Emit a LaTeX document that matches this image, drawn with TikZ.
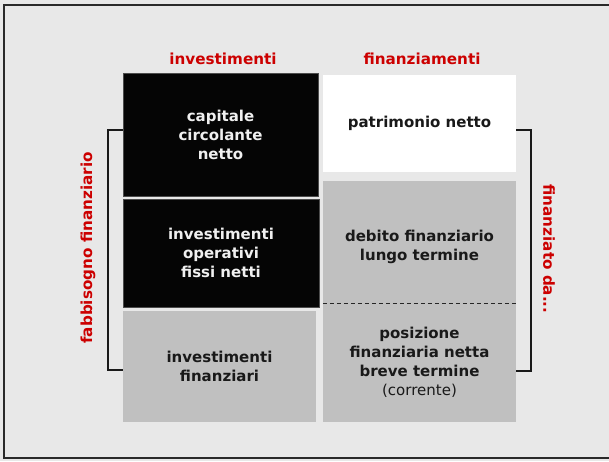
\documentclass[tikz,border=0pt]{standalone}
\usepackage{fontspec}
\setmainfont{DejaVu Sans}
\definecolor{bgc}{HTML}{E8E8E8}
\definecolor{redc}{HTML}{CC0000}
\definecolor{grayc}{HTML}{C0C0C0}
\definecolor{blackc}{HTML}{050505}
\definecolor{framec}{HTML}{2A2A2A}
\begin{document}
\begin{tikzpicture}[x=1pt,y=-1pt,
  txt/.style={font=\bfseries\fontsize{15}{19}\selectfont, align=center, inner sep=0pt},
  darkbox/.style={txt, fill=blackc, draw=black!70, line width=0.8pt, text=white!94!black},
  graybox/.style={txt, fill=grayc, text=black!90},
  whitebox/.style={txt, fill=white, text=black!90},
  header/.style={font=\bfseries\fontsize{15.2}{18}\selectfont, text=redc, inner sep=0pt},
  bracket/.style={draw=black!90, line width=1.1pt}]
\useasboundingbox (0,0) rectangle (609,461);
\fill[bgc] (0,0) rectangle (609,461);
\draw[framec, line width=1.6pt] (4,5) rectangle (625,458);

\node[header] (hinv) at (223,59) {investimenti};
\node[header] (hfin) at (422,59) {finanziamenti};

\node[darkbox, minimum width=195pt, minimum height=123pt] (ccn) at (220.5,134.5) {capitale\\circolante\\netto};
\node[darkbox, minimum width=196pt, minimum height=108pt] (iof) at (221,253) {investimenti\\operativi\\fissi netti};
\node[graybox, minimum width=193pt, minimum height=111pt] (ifin) at (219.5,366.5) {investimenti\\finanziari};

\node[whitebox, minimum width=193pt, minimum height=97pt] (pn) at (419.5,123.5) {patrimonio netto};
\node[fill=grayc, inner sep=0pt, minimum width=193pt, minimum height=241pt] (deb) at (419.5,301.5) {};
\draw[black!85, line width=1pt, dash pattern=on 4pt off 3pt] (deb.west |- 0,303) coordinate (dl) -- (deb.east |- 0,303) coordinate (dr);
\node[txt, text=black!90] (dflt) at (419.5,247) {debito finanziario\\lungo termine};
\node[txt, text=black!90] (pfn) at (419.5,362.5) {posizione\\finanziaria netta\\breve termine\\{\mdseries(corrente)}};

\coordinate (lt) at (108,130);
\coordinate (lb) at (108,370);
\draw[bracket] (ccn.west |- lt) -- (lt) -- (lb) -- (ifin.west |- lb);
\coordinate (rt) at (531,130);
\coordinate (rb) at (531,371);
\draw[bracket] (pn.east |- rt) -- (rt) -- (rb) -- (deb.east |- rb);

\node[header, rotate=90] (fab) at (88,248) {fabbisogno finanziario};
\node[header, rotate=-90] (fda) at (549,249) {finanziato da...};
\end{tikzpicture}
\end{document}
